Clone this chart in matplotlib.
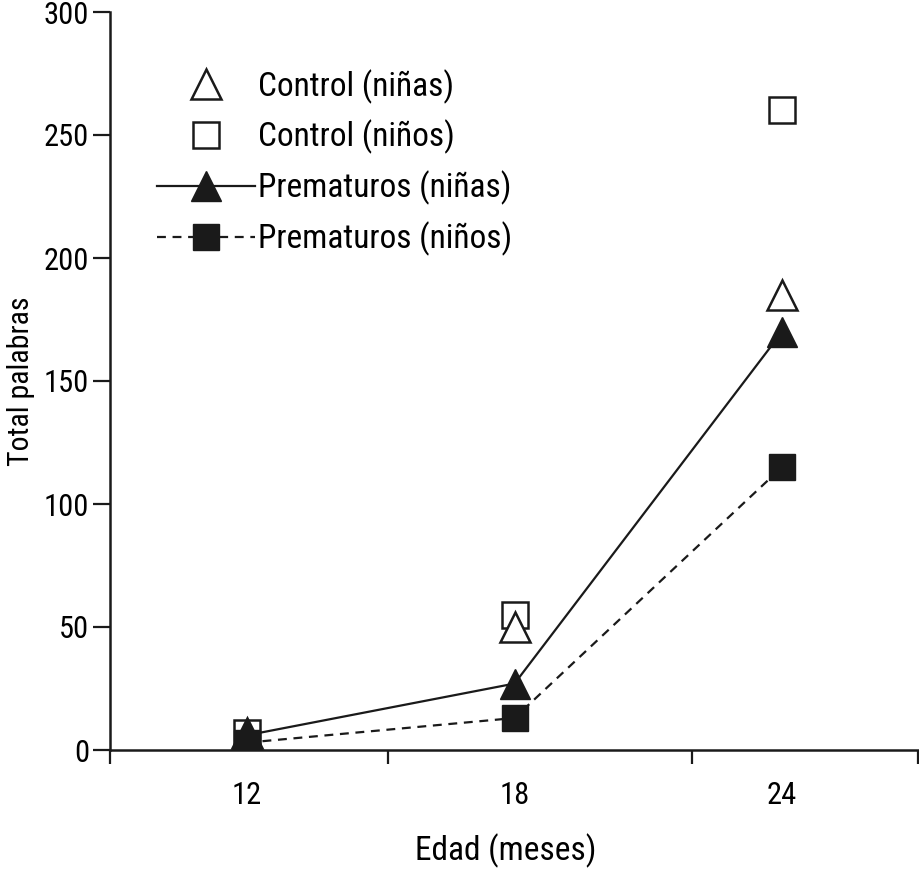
import matplotlib
matplotlib.use("Agg")
import matplotlib.pyplot as plt
from matplotlib import font_manager

names = {f.name for f in font_manager.fontManager.ttflist}
candidates = ["Roboto Condensed", "Liberation Sans Narrow", "Arial Narrow", "PT Sans Narrow",
              "Archivo Narrow", "IBM Plex Sans Condensed", "Sofia Sans Condensed",
              "Encode Sans Condensed", "Barlow Semi Condensed", "Open Sans Condensed"]
fam = next((c for c in candidates if c in names), "DejaVu Sans")
plt.rcParams['font.family'] = [fam, 'DejaVu Sans']

# Data
ages = ["12", "18", "24"]
control_ninas = [7, 50, 185]
control_ninos = [7, 55, 260]
prem_ninas = [6, 27, 170]
prem_ninos = [3, 13, 115]
series_labels = ["Control (niñas)", "Control (niños)", "Prematuros (niñas)", "Prematuros (niños)"]
y_ticks = [0, 50, 100, 150, 200, 250, 300]

x = list(range(len(ages)))

fig = plt.figure(figsize=(9.2, 8.69), dpi=100)
ax = fig.add_axes([110/920, 1-750/869, (918-110)/920, (750-12)/869])

ink = '#1a1a1a'
ms_tri = 22
ms_sq = 18.5
h1, = ax.plot(x, control_ninas, linestyle='none', marker='^', markersize=ms_tri,
              markerfacecolor='white', markeredgecolor=ink, markeredgewidth=1.8, zorder=3)
h2, = ax.plot(x, control_ninos, linestyle='none', marker='s', markersize=ms_sq,
              markerfacecolor='white', markeredgecolor=ink, markeredgewidth=1.8, zorder=2)
h3, = ax.plot(x, prem_ninas, linestyle='-', color=ink, linewidth=1.6, marker='^',
              markersize=ms_tri, markerfacecolor=ink, markeredgecolor=ink, zorder=4)
h4, = ax.plot(x, prem_ninos, linestyle=(0, (4, 3)), color=ink, linewidth=1.6, marker='s',
              markersize=ms_sq, markerfacecolor=ink, markeredgecolor=ink, zorder=4)

ax.set_ylim(0, 300)
ax.set_xlim(-0.512, 2.508)
ax.set_yticks(y_ticks)
ax.set_yticklabels([str(v) for v in y_ticks], fontsize=22)
ax.set_xticks(x)
ax.set_xticklabels(ages, fontsize=22)
ax.tick_params(axis='x', which='major', length=0, pad=22)
ax.set_xticks([-0.512, 0.527, 1.664, 2.508], minor=True)
ax.tick_params(axis='x', which='minor', length=10, width=1.6, direction='out', color=ink)
ax.tick_params(axis='y', which='major', length=12, width=1.6, direction='out', pad=3, color=ink)

for s in ['top', 'right']:
    ax.spines[s].set_visible(False)
for s in ['left', 'bottom']:
    ax.spines[s].set_linewidth(1.8)
    ax.spines[s].set_color(ink)

ax.set_xlabel("Edad (meses)", fontsize=24)
ax.xaxis.set_label_coords((506-110)/808, -0.113)
ax.set_ylabel("Total palabras", fontsize=21.5, labelpad=6)

leg = ax.legend([h1, h2, h3, h4], series_labels, loc='upper left',
                bbox_to_anchor=((157-110)/808, (750-69)/738), frameon=False, fontsize=24,
                handlelength=2.95, handletextpad=0.08, labelspacing=0.49,
                borderaxespad=0, borderpad=0, markerscale=1.0)

fig.savefig("out.png", dpi=100)
